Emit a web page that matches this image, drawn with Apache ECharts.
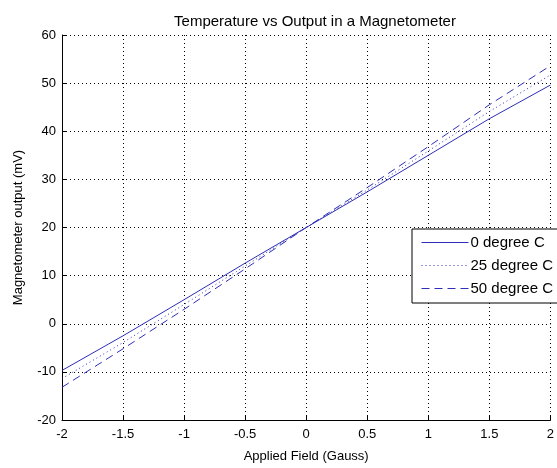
<!DOCTYPE html>
<html>
<head>
<meta charset="utf-8">
<script src="https://cdn.jsdelivr.net/npm/echarts@6/dist/echarts.min.js"></script>
<style>
  html, body { margin: 0; padding: 0; background: #fff; }
  #chart { width: 557px; height: 468px; }
</style>
</head>
<body>
<div id="chart"></div>
<script>
// Applied field sample points (Gauss)
const fieldGauss = [-2, -1.5, -1, -0.5, 0, 0.5, 1, 1.5, 2];

// Magnetometer output (mV) at each temperature
const output0C  = [-9.7, -2.5, 5.0, 12.6, 20, 27.4, 35.0, 42.6, 49.6];
const output25C = [-11.4, -3.9, 4.0, 12.0, 20, 27.8, 35.9, 44.1, 51.7];
const output50C = [-13.2, -5.2, 3.0, 11.4, 20, 28.3, 36.8, 45.5, 53.6];

const seriesNames = ['0 degree C', '25 degree C', '50 degree C'];

const FONT = 'Liberation Sans, Arial, sans-serif';
const LINE_COLOR = '#2e2eb8';

function pairs(xs, ys) {
  return xs.map((x, i) => [x, ys[i]]);
}

const chart = echarts.init(document.getElementById('chart'), null, { renderer: 'canvas' });

const gridLine = { show: true, lineStyle: { color: '#000', width: 1, type: [1, 3] } };

chart.setOption({
  animation: false,
  backgroundColor: '#fff',
  title: {
    text: 'Temperature vs Output in a Magnetometer',
    left: 310,
    top: 9,
    textAlign: 'center',
    textStyle: { fontFamily: FONT, fontSize: 15, fontWeight: 'normal', color: '#000' }
  },
  legend: {
    orient: 'vertical',
    left: 412,
    top: 229,
    padding: [6, 30, 7, 9],
    itemGap: 8,
    itemWidth: 47,
    itemHeight: 14,
    backgroundColor: '#fff',
    borderColor: '#000',
    borderWidth: 1,
    borderRadius: 0,
    // legend keys show only the line sample, no marker
    itemStyle: { opacity: 0, borderWidth: 0 },
    lineStyle: { width: 1 },
    textStyle: { fontFamily: FONT, fontSize: 15, color: '#000', padding: [0, 0, 0, -3] },
    data: seriesNames
  },
  // the plot runs right up to the page edge, so the last x label is clipped
  grid: { left: 62, right: -1, top: 35, bottom: 42, containLabel: false },
  xAxis: {
    type: 'value',
    min: -2,
    max: 2,
    interval: 0.5,
    name: 'Applied Field (Gauss)',
    nameLocation: 'middle',
    nameGap: 30,
    nameTextStyle: { fontFamily: FONT, fontSize: 13, color: '#000' },
    axisLine: { show: true, onZero: false, lineStyle: { color: '#000', width: 1 } },
    axisTick: { show: true, inside: true, length: 5, lineStyle: { color: '#000' } },
    axisLabel: { fontFamily: FONT, fontSize: 13, color: '#000', margin: 8 },
    splitLine: gridLine
  },
  yAxis: {
    type: 'value',
    min: -20,
    max: 60,
    interval: 10,
    name: 'Magnetometer output (mV)',
    nameLocation: 'middle',
    nameGap: 37,
    nameRotate: 90,
    nameTextStyle: { fontFamily: FONT, fontSize: 13, color: '#000' },
    axisLine: { show: true, onZero: false, lineStyle: { color: '#000', width: 1 } },
    axisTick: { show: true, inside: true, length: 5, lineStyle: { color: '#000' } },
    axisLabel: { fontFamily: FONT, fontSize: 13, color: '#000', margin: 6 },
    splitLine: gridLine
  },
  series: [
    {
      name: seriesNames[0],
      type: 'line',
      symbol: 'none',
      data: pairs(fieldGauss, output0C),
      lineStyle: { color: LINE_COLOR, width: 1, type: 'solid' },
      itemStyle: { color: LINE_COLOR }
    },
    {
      name: seriesNames[1],
      type: 'line',
      symbol: 'none',
      data: pairs(fieldGauss, output25C),
      lineStyle: { color: LINE_COLOR, width: 1, type: [1, 3] },
      itemStyle: { color: LINE_COLOR }
    },
    {
      name: seriesNames[2],
      type: 'line',
      symbol: 'none',
      data: pairs(fieldGauss, output50C),
      lineStyle: { color: LINE_COLOR, width: 1, type: [8, 5] },
      itemStyle: { color: LINE_COLOR }
    }
  ]
});
</script>
</body>
</html>
